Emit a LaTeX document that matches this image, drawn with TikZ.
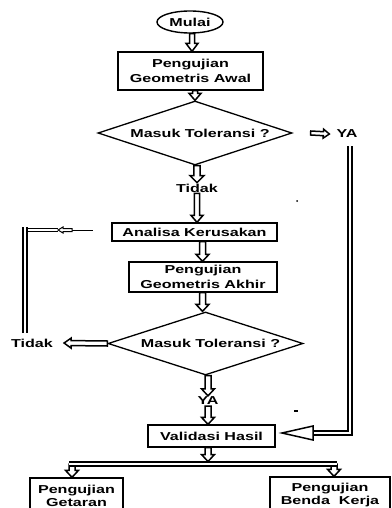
\documentclass[tikz,border=0pt]{standalone}
\usepackage{fontspec}
\setmainfont{Liberation Sans}[FakeStretch=1.4]
\usetikzlibrary{shapes.geometric,calc}
\newcommand\fz{\fontsize{11.5pt}{15pt}\selectfont\bfseries}
\newcommand\fzb{\fontsize{11.5pt}{13pt}\selectfont\bfseries}
% #2 start, #3 tip, #4 shaft half width, #5 head half width, #6 head length
\newcommand{\blockarr}[6][]{%
  \draw[barrow,#1] let \p1=(#2), \p2=(#3),
      \n1={veclen(\x2-\x1,\y2-\y1)}, \n2={(\x2-\x1)/\n1}, \n3={(\y2-\y1)/\n1},
      \n4={\x2-\n2*#6}, \n5={\y2-\n3*#6} in
    ({\x1-\n3*#4},{\y1+\n2*#4}) -- ({\n4-\n3*#4},{\n5+\n2*#4}) -- ({\n4-\n3*#5},{\n5+\n2*#5})
    -- (\p2) -- ({\n4+\n3*#5},{\n5-\n2*#5}) -- ({\n4+\n3*#4},{\n5-\n2*#4})
    -- ({\x1+\n3*#4},{\y1-\n2*#4}) -- cycle;
}
\begin{document}
\begin{tikzpicture}[x=1pt,y=-1pt,
  every node/.style={font=\fz},
  box/.style={draw, line width=1.3pt, inner sep=0pt, align=center},
  dia/.style={draw, diamond, line width=1.3pt, inner sep=0pt},
  lbl/.style={inner sep=1pt},
  dline/.style={draw, line width=1.4pt, double=white, double distance=2.4pt},
  tline/.style={draw, line width=0.8pt, double=white, double distance=2pt},
  barrow/.style={draw, fill=white, line width=1.5pt, line join=miter}]
\clip (0,0) rectangle (391,508);
\fill[white] (0,0) rectangle (391,508);

% nodes
\node[draw, ellipse, line width=1.4pt, minimum width=66pt, minimum height=22pt, inner sep=0pt] (mulai) at (190,22) {Mulai};
\node[box, minimum width=145pt, minimum height=38pt] (awal) at (190.5,71) {Pengujian\\Geometris Awal};
\node[dia, minimum width=194pt, minimum height=64pt] (d1) at (195,133) {};
\node (d1t) at ([xshift=5pt]d1.center) {Masuk Toleransi ?};
\node[lbl] (ya1) at (347,134) {YA};
\node[lbl] (tidak1) at (197,188) {Tidak};
\node[box, minimum width=165pt, minimum height=18pt] (analisa) at (194.5,232) {Analisa Kerusakan};
\node[box, minimum width=148pt, minimum height=30pt] (akhir) at (203,277) {Pengujian\\Geometris Akhir};
\node[dia, minimum width=195pt, minimum height=63pt] (d2) at (205.5,343.5) {};
\node (d2t) at ([xshift=5pt]d2.center) {Masuk Toleransi ?};
\node[lbl] (tidak2) at (32,343) {Tidak};
\node[lbl] (ya2) at (208,401) {YA};
\node[box, minimum width=127pt, minimum height=22pt] (valid) at (211.5,436) {Validasi Hasil};
\node[box, minimum width=93pt, minimum height=36pt, font=\fzb] (getaran) at (76.5,496) {Pengujian\\Getaran};
\node[box, minimum width=120pt, minimum height=36pt, font=\fzb] (benda) at (330,495) {Pengujian\\Benda\ \ Kerja};

% columns of the vertical arrows
\coordinate (c1) at (192,0);
\coordinate (c2) at (195,0);
\coordinate (c3) at (197,0);
\coordinate (c4) at (202.5,0);
\coordinate (c5) at (208,0);

% main flow arrows
\blockarr{c1 |- mulai.south}{c1 |- awal.north}{2.5pt}{6pt}{8pt}
\blockarr{c2 |- awal.south}{c2 |- d1.north}{2.5pt}{6pt}{7pt}
\blockarr{c3 |- d1.south}{c3 |- tidak1.north}{3.2pt}{7pt}{7pt}
\blockarr{c3 |- tidak1.south}{c3 |- analisa.north}{2.6pt}{6pt}{7pt}
\blockarr{c4 |- analisa.south}{c4 |- akhir.north}{3pt}{6.5pt}{7pt}
\blockarr{c4 |- akhir.south}{c4 |- d2.north}{3pt}{6.5pt}{7pt}
\blockarr{c5 |- d2.south}{c5 |- ya2.north}{3pt}{6.5pt}{7pt}
\blockarr{c5 |- ya2.south}{c5 |- valid.north}{3pt}{6.5pt}{7pt}

% YA branch of first decision
\coordinate (ya1a) at ([xshift=18pt]d1.east);
\coordinate (ya1b) at ([xshift=-6pt]ya1.west);
\blockarr{ya1a}{ya1b}{2pt}{4.5pt}{6pt}
\coordinate (yatop) at (350,146);
\coordinate (vcorner) at (350,433);
\coordinate (hback) at (313,433);
\coordinate (vtip) at (282,433);
\draw[dline] (yatop) -- (vcorner) -- (hback);
\blockarr{hback}{vtip}{2.6pt}{7pt}{31pt}

% Tidak branch of second decision
\coordinate (tid2tip) at ([xshift=10pt]tidak2.east);
\blockarr{d2.west}{tid2tip}{2.5pt}{5pt}{7pt}
\coordinate (lbot) at (25,333);
\coordinate (ltop) at (25,227);
\coordinate (lcorner) at (28,230);
\coordinate (lmid) at (58,230);
\coordinate (lq) at (72,230);
\coordinate (lend) at (93,230);
\draw[dline] (lbot) -- (ltop);
\draw[tline] (lcorner) -- (lmid);
\draw[line width=1pt] (lq) -- (lend);
\blockarr[line width=1pt]{lq}{lmid}{1.5pt}{3pt}{5pt}

% split to the two final tests
\coordinate (b1) at (72,464);
\coordinate (b2) at (334,464);
\coordinate (bL) at (69,464);
\coordinate (bR) at (337,464);
\coordinate (bm) at (208,461.5);
\blockarr{b1}{b1 |- getaran.north}{3pt}{6.5pt}{7pt}
\blockarr{b2}{b2 |- benda.north}{3pt}{6.5pt}{7pt}
\draw[dline] (bL) -- (bR);
\blockarr{c5 |- valid.south}{bm}{3pt}{6.5pt}{7pt}

% small specks
\fill (297,201) circle (1pt);
\fill (294,410) rectangle (298,411.5);
\end{tikzpicture}
\end{document}
